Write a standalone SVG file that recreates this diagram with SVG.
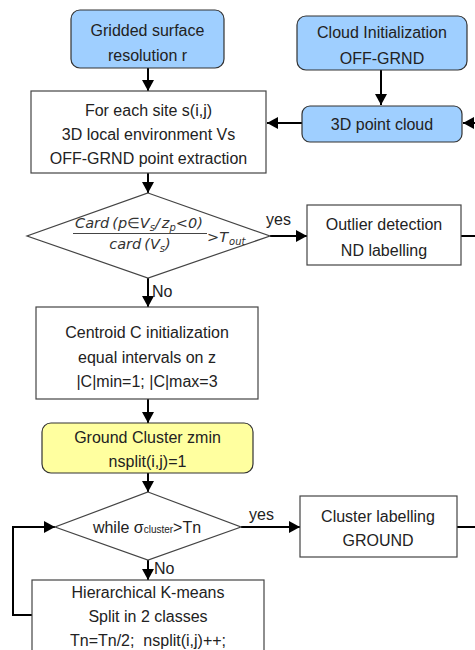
<svg xmlns="http://www.w3.org/2000/svg" width="475" height="650" viewBox="0 0 475 650">
<defs>
<style>
.t{font-family:"Liberation Sans",Arial,sans-serif;font-size:16px;fill:#222;text-anchor:middle}
.l{font-family:"Liberation Sans",Arial,sans-serif;font-size:16px;fill:#222}
.m{font-family:"DejaVu Sans",sans-serif;font-style:italic;font-size:14.5px;fill:#333}
.box{fill:#fff;stroke:#444;stroke-width:1.2}
.blue{fill:#9fcfff;stroke:#333;stroke-width:1.2}
.yel{fill:#ffff9f;stroke:#333;stroke-width:1.2}
.c{fill:none;stroke:#000;stroke-width:2}
</style>
<marker id="a" markerUnits="userSpaceOnUse" markerWidth="12" markerHeight="12" refX="11" refY="6" orient="auto">
<path d="M0,0 L11,6 L0,12 z" fill="#000"/>
</marker>
</defs>
<g id="connectors">
<path class="c" d="M148,68 V91" marker-end="url(#a)"/>
<path class="c" d="M381,70 V105" marker-end="url(#a)"/>
<path class="c" d="M302,123 H267" marker-end="url(#a)"/>
<path class="c" d="M476,123 H463" marker-end="url(#a)"/>
<path class="c" d="M148,173 V193" marker-end="url(#a)"/>
<path class="c" d="M270,236 H307" marker-end="url(#a)"/>
<path class="c" d="M461,236 H475"/>
<path class="c" d="M148,278 V307" marker-end="url(#a)"/>
<path class="c" d="M148,399 V423" marker-end="url(#a)"/>
<path class="c" d="M148,473 V492" marker-end="url(#a)"/>
<path class="c" d="M241,527 H300" marker-end="url(#a)"/>
<path class="c" d="M457,527 H475"/>
<path class="c" d="M148,560 V580" marker-end="url(#a)"/>
<path class="c" d="M32,615 H13 V527 H55" marker-end="url(#a)"/>
<text class="l" x="266" y="225">yes</text>
<text class="l" x="152" y="297">No</text>
<text class="l" x="249" y="520">yes</text>
<text class="l" x="154" y="574">No</text>
</g>
<g id="gridded">
<rect class="blue" x="71" y="10" width="153" height="58" rx="9"/>
<text class="t" x="147.5" y="36">Gridded surface</text>
<text class="t" x="147.5" y="61">resolution r</text>
</g>
<g id="cloudinit">
<rect class="blue" x="297" y="16" width="170" height="54" rx="9"/>
<text class="t" x="382" y="38">Cloud Initialization</text>
<text class="t" x="382" y="64">OFF-GRND</text>
</g>
<g id="pointcloud">
<rect class="blue" x="302" y="106" width="160" height="36" rx="8"/>
<text class="t" x="382" y="130">3D point cloud</text>
</g>
<g id="foreach">
<rect class="box" x="31" y="91" width="235" height="82"/>
<text class="t" x="148.5" y="116">For each site s(i,j)</text>
<text class="t" x="148.5" y="140">3D local environment Vs</text>
<text class="t" x="148.5" y="164">OFF-GRND point extraction</text>
</g>
<g id="decision1">
<polygon class="box" points="148,193 270,236 148,278 27,236"/>
<text class="m" x="139" y="228" text-anchor="middle">Card<tspan dx="3">(</tspan>p∈V<tspan font-size="10" dy="3">s</tspan><tspan dy="-3">/</tspan><tspan dx="2">z</tspan><tspan font-size="10" dy="3">p</tspan><tspan dy="-3">&lt;0)</tspan></text>
<line x1="73" y1="233.5" x2="207" y2="233.5" stroke="#444" stroke-width="1"/>
<text class="m" x="140" y="249" text-anchor="middle">card<tspan dx="3">(</tspan>V<tspan font-size="10" dy="3">s</tspan><tspan dy="-3">)</tspan></text>
<text class="m" x="207" y="242">&gt;T<tspan font-size="10" dy="3" dx="1">out</tspan></text>
</g>
<g id="outlier">
<rect class="box" x="307" y="205" width="154" height="60"/>
<text class="t" x="384" y="230">Outlier detection</text>
<text class="t" x="384" y="256">ND labelling</text>
</g>
<g id="centroid">
<rect class="box" x="36" y="307" width="222" height="92"/>
<text class="t" x="147" y="338">Centroid C initialization</text>
<text class="t" x="147" y="363">equal intervals on z</text>
<text class="t" x="147" y="387">|C|min=1; |C|max=3</text>
</g>
<g id="ground">
<rect class="yel" x="42" y="423" width="211" height="50" rx="9"/>
<text class="t" x="147.5" y="443">Ground Cluster zmin</text>
<text class="t" x="147.5" y="467">nsplit(i,j)=1</text>
</g>
<g id="decision2">
<polygon class="box" points="148,492 241,527 148,560 55,527"/>
<text class="t" x="147" y="533">while σ<tspan font-size="10">cluster</tspan>&gt;Tn</text>
</g>
<g id="clusterlabel">
<rect class="box" x="300" y="496" width="157" height="61"/>
<text class="t" x="378" y="522">Cluster labelling</text>
<text class="t" x="378" y="546">GROUND</text>
</g>
<g id="kmeans">
<rect class="box" x="32" y="580" width="232" height="80"/>
<text class="t" x="148" y="598">Hierarchical K-means</text>
<text class="t" x="148" y="622">Split in 2 classes</text>
<text class="t" x="148" y="646">Tn=Tn/2;&#160; nsplit(i,j)++;</text>
</g>
</svg>
